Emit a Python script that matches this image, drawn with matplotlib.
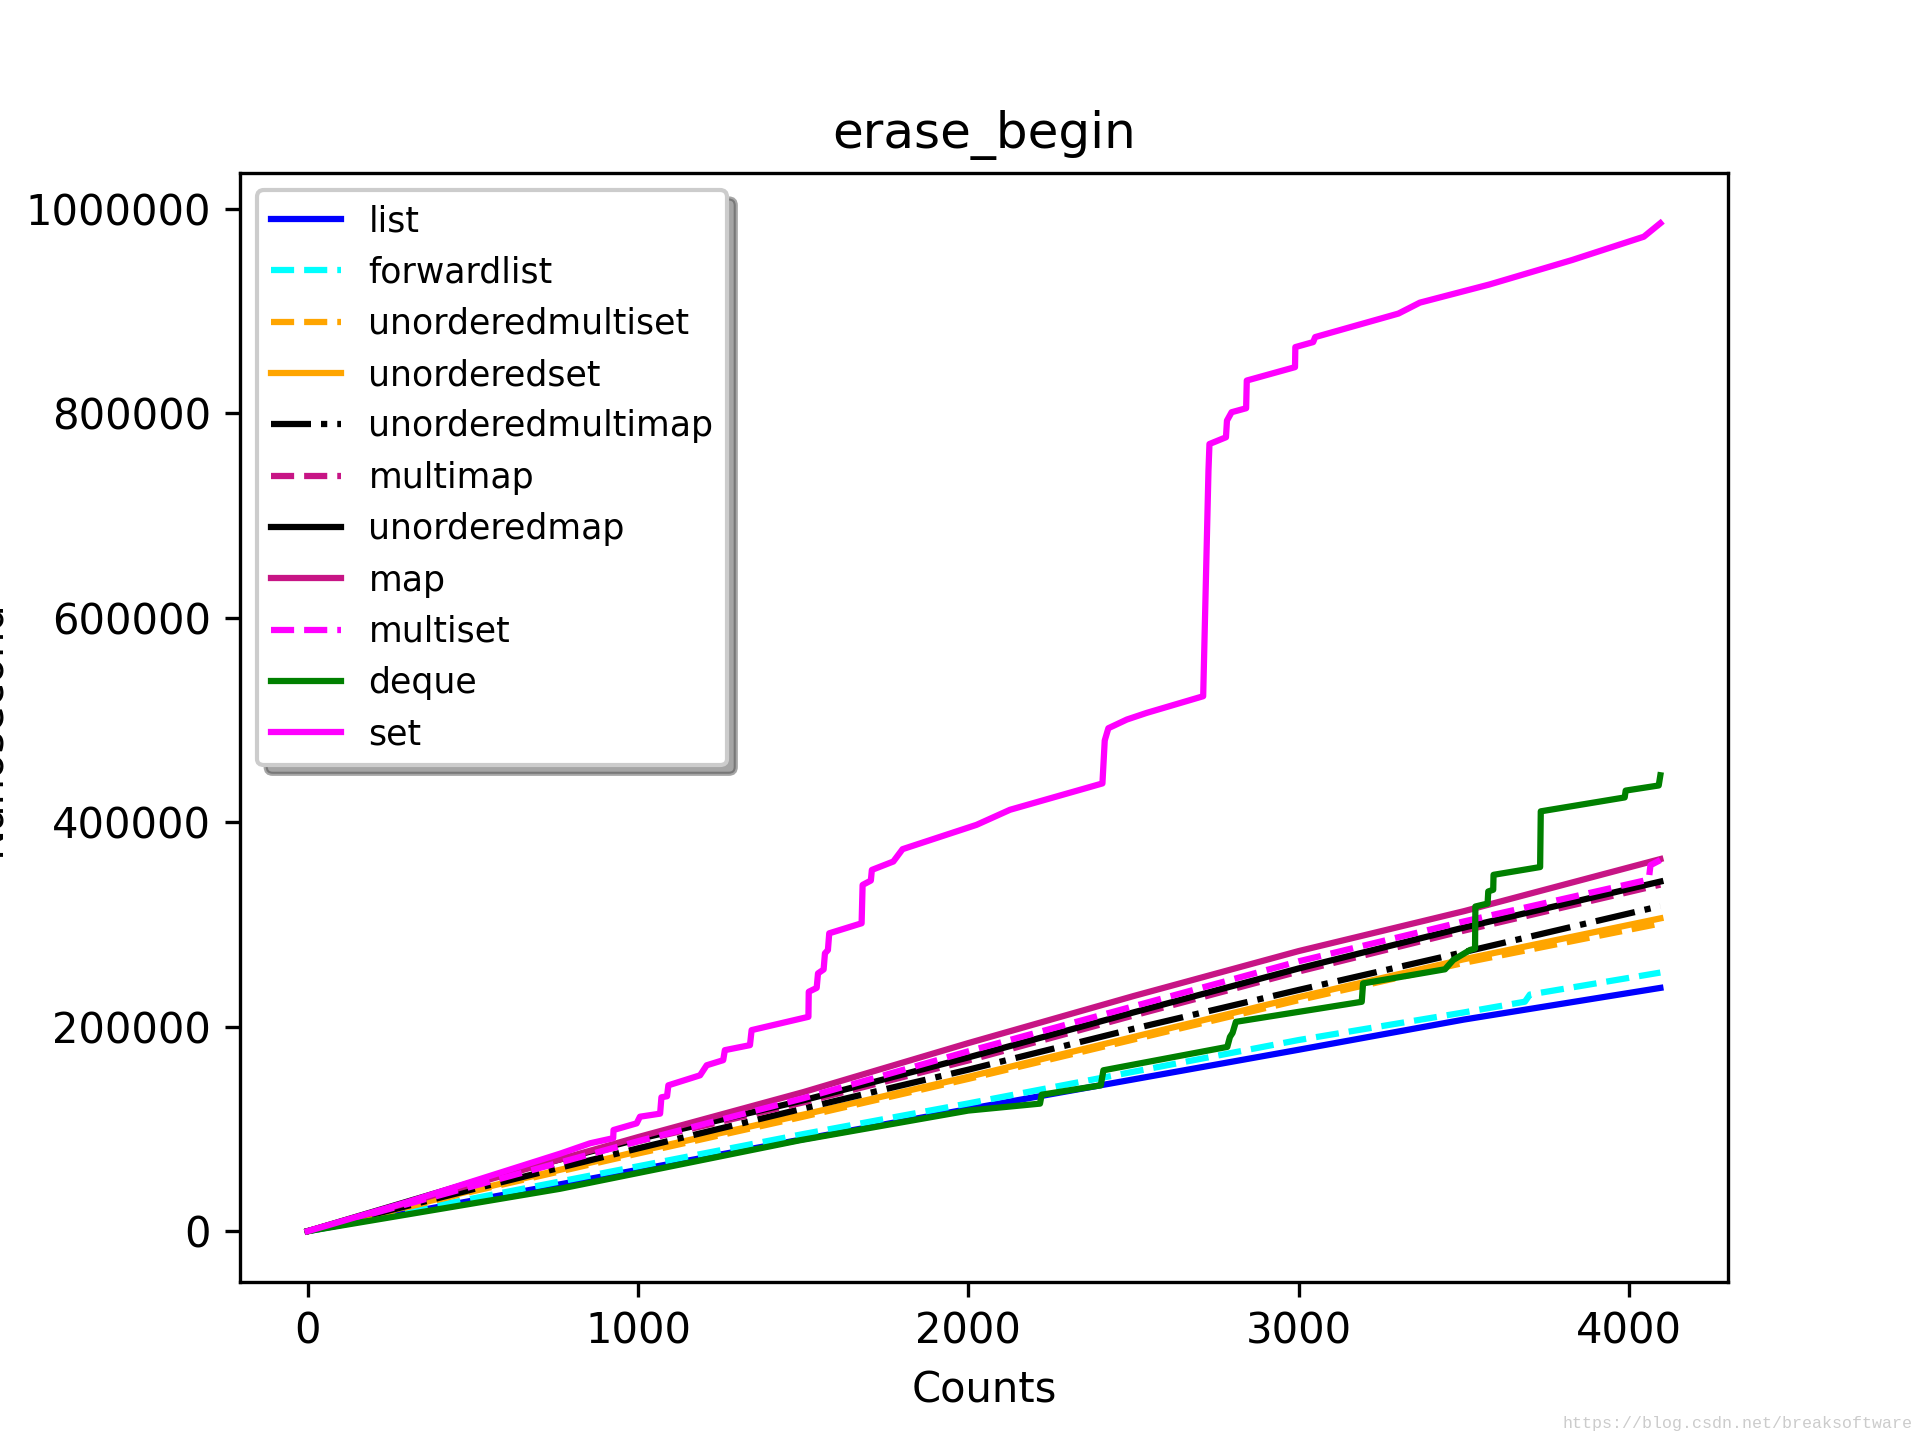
import matplotlib
matplotlib.use('Agg')
import matplotlib.pyplot as plt

# shared count grid for the smooth containers
counts = [0, 500, 1000, 1500, 2000, 2500, 3000, 3500, 4095]

list_ns = [0, 30000, 60000, 90000, 119500, 148500, 177500, 207000, 238000]
unorderedmultiset_ns = [0, 39000, 76000, 112000, 149000, 187500, 226000, 262500, 301000]
unorderedset_ns = [0, 40000, 78000, 114000, 151000, 190000, 229000, 266000, 306000]
unorderedmultimap_ns = [0, 41000, 81000, 120000, 158000, 198000, 236000, 273000, 318000]
multimap_ns = [0, 46000, 88000, 126000, 167000, 211000, 254000, 294000, 339000]
unorderedmap_ns = [0, 48000, 90000, 128000, 170000, 214000, 257000, 297000, 342000]
map_ns = [0, 46000, 92000, 136000, 184000, 230000, 274000, 313000, 364000]

forwardlist_counts = [0, 500, 1000, 1500, 2000, 2500, 3000, 3500, 3685, 3700, 4095]
forwardlist_ns = [0, 32000, 63500, 95000, 125000, 156000, 187000, 214000, 224500, 231500, 253000]

multiset_counts = [0, 500, 1000, 1500, 2000, 2500, 3000, 3500, 4060, 4065, 4095]
multiset_ns = [0, 44000, 88000, 130000, 176000, 220000, 264000, 303000, 344000, 358000, 363000]

deque_counts = [0, 764, 1491, 2000, 2217, 2222, 2401, 2409, 2784, 2792,
                2800, 2810, 3065, 3191, 3195, 3443, 3468, 3519, 3534, 3535,
                3572, 3574, 3589, 3590, 3731, 3733, 3987, 3990, 4090, 4095]
deque_ns = [0, 41500, 89000, 118000, 124800, 133500, 142700, 157400, 180300, 190000,
            194000, 204800, 217900, 224400, 242400, 256200, 265300, 275100, 276500, 317600,
            320500, 332300, 334000, 348600, 356200, 410700, 424300, 431000, 436000, 446000]

set_counts = [0, 300, 764, 855, 925, 926, 996, 1006, 1067, 1071,
              1088, 1092, 1188, 1208, 1258, 1263, 1339, 1344, 1516, 1517,
              1541, 1545, 1562, 1566, 1575, 1579, 1677, 1680, 1705, 1708,
              1773, 1801, 2025, 2126, 2406, 2413, 2424, 2480, 2540, 2711,
              2727, 2730, 2780, 2783, 2797, 2841, 2843, 2989, 2990, 3044,
              3050, 3302, 3367, 3577, 3828, 4045, 4095]
set_ns = [0, 28300, 75800, 86000, 91000, 99000, 105500, 112000, 115000, 131000,
          132000, 142700, 152500, 162300, 167300, 177100, 182000, 196700, 209700, 234200,
          238000, 252200, 256000, 271800, 275000, 291400, 301200, 338700, 343000, 353400,
          361600, 373700, 397500, 412200, 438000, 480000, 492000, 500500, 507000, 523300,
          743800, 770000, 776600, 792900, 801100, 805000, 832100, 845200, 864800, 869700,
          874600, 897600, 908300, 926000, 950000, 972800, 986000]

fig, ax = plt.subplots(figsize=(6.4, 4.8), dpi=300)

ax.plot(counts, list_ns, color='blue', linestyle='-', label='list')
ax.plot(forwardlist_counts, forwardlist_ns, color='cyan', linestyle='--', label='forwardlist')
ax.plot(counts, unorderedmultiset_ns, color='orange', linestyle='--', label='unorderedmultiset')
ax.plot(counts, unorderedset_ns, color='orange', linestyle='-', label='unorderedset')
ax.plot(counts, unorderedmultimap_ns, color='black', linestyle='-.', label='unorderedmultimap')
ax.plot(counts, multimap_ns, color='mediumvioletred', linestyle='--', label='multimap')
ax.plot(counts, unorderedmap_ns, color='black', linestyle='-', label='unorderedmap')
ax.plot(counts, map_ns, color='mediumvioletred', linestyle='-', label='map')
ax.plot(multiset_counts, multiset_ns, color='magenta', linestyle='--', label='multiset')
ax.plot(deque_counts, deque_ns, color='green', linestyle='-', label='deque')
ax.plot(set_counts, set_ns, color='magenta', linestyle='-', label='set')

ax.set_title('erase_begin')
ax.set_xlabel('Counts')
ax.set_ylabel('Nanosecond')
ax.ticklabel_format(axis='y', style='plain', useOffset=False)

ax.legend(loc='upper left', shadow=True, fontsize='small')

# blog watermark in the corner
fig.text(0.996, 0.006, 'https://blog.csdn.net/breaksoftware', ha='right', va='bottom',
         fontsize=4, family='Liberation Mono', color='#cccccc')

fig.savefig('out.png', dpi=300)
